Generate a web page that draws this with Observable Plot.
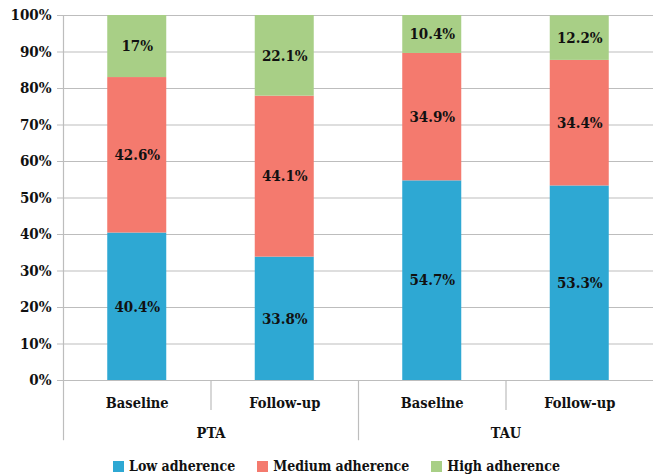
<!DOCTYPE html>
<html>
<head>
<meta charset="utf-8">
<script src="https://cdn.jsdelivr.net/npm/d3@7"></script>
<script src="https://cdn.jsdelivr.net/npm/@observablehq/plot@0.6"></script>
<style>
  body { margin: 0; background: #fff; }
  #chart { width: 653px; }
  svg text { font-family: "DejaVu Serif Condensed", "DejaVu Serif", serif; font-weight: bold; }
  .legend { display: flex; justify-content: center; gap: 22px; padding-left: 20px; margin-top: 8px;
    font-family: "DejaVu Serif Condensed", "DejaVu Serif", serif; font-weight: bold; font-size: 14px; color: #111; }
  .legend span.sw { display: inline-block; width: 11px; height: 11px; margin-right: 5px; vertical-align: -1px; }
  g[aria-label="y-axis tick"] path { stroke: #bdbdbd; }
</style>
</head>
<body>
<div id="chart"></div>
<script>
const groups = ["PTA", "TAU"];
const times = ["Baseline", "Follow-up"];
const levels = ["Low adherence", "Medium adherence", "High adherence"];
const colors = ["#2ea8d3", "#f47a6e", "#a8cf86"];
// values per bar: PTA Baseline, PTA Follow-up, TAU Baseline, TAU Follow-up
const low = [40.4, 33.8, 54.7, 53.3];
const medium = [42.6, 44.1, 34.9, 34.4];
const high = [17, 22.1, 10.4, 12.2];
const yTicks = [0, 0.1, 0.2, 0.3, 0.4, 0.5, 0.6, 0.7, 0.8, 0.9, 1];

const series = [low, medium, high];
const bars = [];
groups.forEach((g, gi) => times.forEach((t, ti) => bars.push({group: g, time: t, i: gi * 2 + ti})));

const table = [];
bars.forEach(b => {
  let acc = 0;
  series.forEach((s, li) => {
    const v = s[b.i];
    table.push({...b, level: levels[li], value: v, y1: acc / 100, y2: (acc + v) / 100});
    acc += v;
  });
});

const below = -0.165, belowShort = -0.082;

const plot = Plot.plot({
  width: 653,
  height: 450,
  marginTop: 15,
  marginBottom: 70,
  marginLeft: 63,
  marginRight: 0,
  style: { background: "#fff", color: "#111" },
  x: { domain: [0, bars.length], axis: null },
  y: { domain: [0, 1], axis: null },
  color: { domain: levels, range: colors },
  marks: [
    Plot.gridY(yTicks, { stroke: "#bdbdbd", strokeOpacity: 1, strokeWidth: 1.2 }),
    Plot.axisY({ ticks: yTicks, tickFormat: d => Math.round(d * 100) + "%", tickSize: 6, tickPadding: 6, fontSize: 15, stroke: "#bdbdbd" }),
    Plot.ruleX([0, 2], { y1: 0, y2: below, stroke: "#bdbdbd", strokeWidth: 1.2 }),
    Plot.ruleX([1, 3], { y1: 0, y2: belowShort, stroke: "#bdbdbd", strokeWidth: 1.2 }),
    Plot.ruleX([0], { y1: 0, y2: 1, stroke: "#bdbdbd", strokeWidth: 1.2 }),
    Plot.rectY(table, { x1: d => d.i + 0.3, x2: d => d.i + 0.7, y1: "y1", y2: "y2", fill: "level" }),
    Plot.text(table, { x: d => d.i + 0.5, y: d => (d.y1 + d.y2) / 2, text: d => d.value + "%", fontSize: 15, fill: "#111" }),
    Plot.text(bars, { x: d => d.i + 0.5, y: 0, dy: 23, text: "time", fontSize: 14.5, fill: "#111" }),
    Plot.text(groups, { x: (d, gi) => gi * 2 + 1, y: 0, dy: 53, text: d => d, fontSize: 14.5, fill: "#111" })
  ]
});
document.getElementById("chart").appendChild(plot);

const legend = document.createElement("div");
legend.className = "legend";
levels.forEach((l, i) => {
  const item = document.createElement("div");
  item.innerHTML = `<span class="sw" style="background:${colors[i]}"></span>${l}`;
  legend.appendChild(item);
});
document.getElementById("chart").appendChild(legend);
</script>
</body>
</html>
